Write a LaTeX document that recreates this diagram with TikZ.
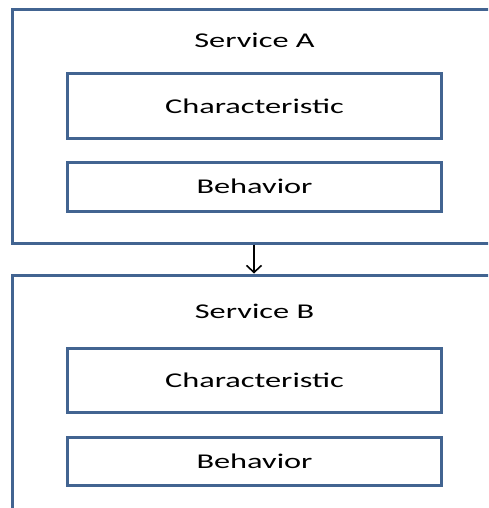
\documentclass[tikz,border=0pt]{standalone}
\usepackage{fontspec}
\setmainfont[FakeStretch=1.54]{Carlito}
\usetikzlibrary{arrows.meta}
\definecolor{frame}{RGB}{66,100,145}
\tikzset{
  outerbox/.style={draw=frame, line width=3pt, rectangle, inner sep=0pt},
  innerbox/.style={draw=frame, line width=3pt, rectangle, inner sep=0pt,
    minimum width=374pt, font=\fontsize{21}{25}\selectfont},
  title/.style={font=\fontsize{21}{25}\selectfont, inner sep=0pt},
  flow/.style={-{Straight Barb[length=7pt,width=15pt]}, line width=1.6pt, black}
}
\begin{document}
\begin{tikzpicture}[x=1pt,y=-1pt]
  \useasboundingbox (0,0) rectangle (488,508);
  \clip (0,0) rectangle (488,508);
  % service containers (right side runs past the frame)
  \node[outerbox, minimum width=520pt, minimum height=233pt] (A) at (272,126.5) {};
  \node[outerbox, minimum width=520pt, minimum height=260pt] (B) at (272,405) {};
  % titles
  \node[title] (tA) at (254.5,40) {Service A};
  \node[title] (tB) at (254.5,311) {Service B};
  % inner boxes of service A
  \node[innerbox, minimum height=64pt] (cA) at (254.5,106) {Characteristic};
  \node[innerbox, minimum height=49pt] (bA) at (254.5,186.5) {Behavior};
  % inner boxes of service B
  \node[innerbox, minimum height=64pt] (cB) at (254.5,380.5) {Characteristic};
  \node[innerbox, minimum height=48pt] (bB) at (254.5,461) {Behavior};
  % link between the services
  \coordinate (ax) at (254,0);
  \draw[flow] (A.south -| ax) -- (B.north -| ax);
\end{tikzpicture}
\end{document}
